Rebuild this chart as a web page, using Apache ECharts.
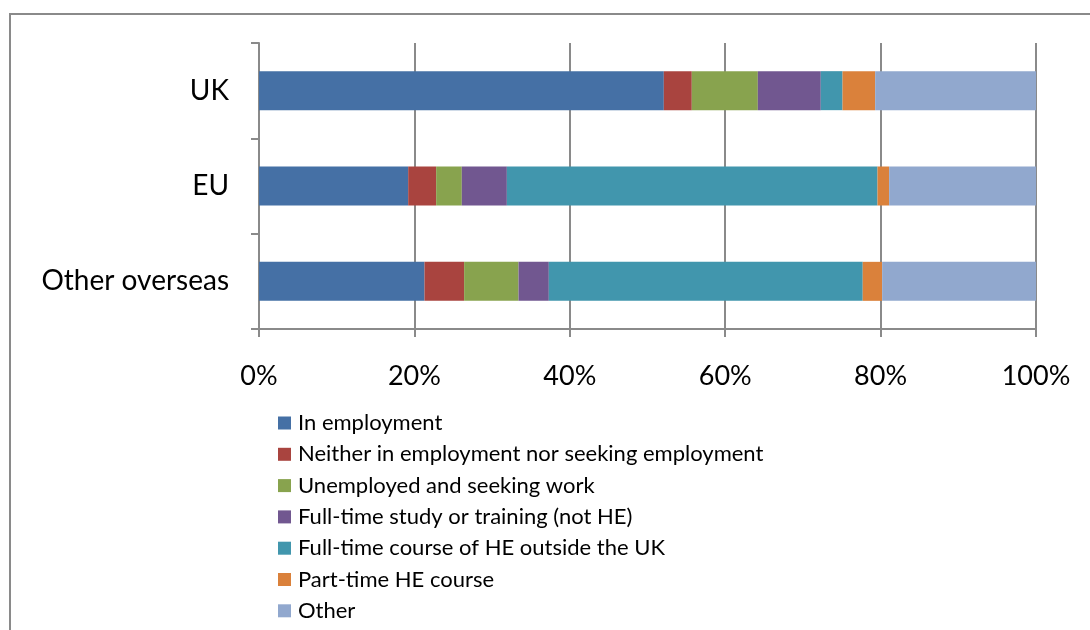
<!DOCTYPE html>
<html>
<head>
<meta charset="utf-8">
<script src="https://cdn.jsdelivr.net/npm/echarts@6/dist/echarts.min.js"></script>
<style>
html,body{margin:0;padding:0;background:#fff;}
#chart{width:1090px;height:630px;}
</style>
</head>
<body>
<div id="chart"></div>
<script>
var categories = ['UK', 'EU', 'Other overseas'];
var seriesNames = [
  'In employment',
  'Neither in employment nor seeking employment',
  'Unemployed and seeking work',
  'Full-time study or training (not HE)',
  'Full-time course of HE outside the UK',
  'Part-time HE course',
  'Other'
];
var inEmployment      = [52.1, 19.2, 21.3];
var neitherEmployment = [3.6, 3.6, 5.1];
var unemployed        = [8.5, 3.3, 7.0];
var fullTimeStudy     = [8.1, 5.8, 3.9];
var fullTimeHEAbroad  = [2.8, 47.7, 40.4];
var partTimeHE        = [4.2, 1.5, 2.5];
var other             = [20.7, 18.9, 19.8];
var xTicks = [0, 20, 40, 60, 80, 100];

var values = [inEmployment, neitherEmployment, unemployed, fullTimeStudy, fullTimeHEAbroad, partTimeHE, other];
var colors = ['#4570A5', '#A9443F', '#88A34E', '#715790', '#4196AD', '#DA813B', '#91A8CE'];
var FONT = 'Lato';

var chart = echarts.init(document.getElementById('chart'));
var series = seriesNames.map(function (n, i) {
  return {
    name: n,
    type: 'bar',
    stack: 'total',
    barWidth: 39,
    data: values[i],
    itemStyle: { color: colors[i] },
    emphasis: { disabled: true }
  };
});

chart.setOption({
  animation: false,
  textStyle: { fontFamily: FONT },
  graphic: [{
    type: 'rect',
    shape: { x: 10, y: 14, width: 1200, height: 800 },
    style: { fill: 'none', stroke: '#8a8a8a', lineWidth: 2 },
    silent: true
  }],
  grid: { left: 259, right: 54, top: 43, bottom: 301 },
  xAxis: {
    type: 'value',
    min: xTicks[0],
    max: xTicks[xTicks.length - 1],
    interval: 20,
    axisLine: { show: true, lineStyle: { color: '#8a8a8a', width: 2 } },
    axisTick: { show: true, length: 8, lineStyle: { color: '#8a8a8a', width: 2 } },
    splitLine: { show: true, lineStyle: { color: '#8a8a8a', width: 2 } },
    axisLabel: { formatter: '{value}%', color: '#000', fontSize: 27, fontFamily: FONT, margin: 34 }
  },
  yAxis: {
    type: 'category',
    data: categories,
    inverse: true,
    axisLine: { show: true, lineStyle: { color: '#8a8a8a', width: 2 } },
    axisTick: { show: true, length: 8, alignWithLabel: false, lineStyle: { color: '#8a8a8a', width: 2 } },
    axisLabel: { color: '#000', fontSize: 28, fontFamily: FONT, margin: 30 }
  },
  legend: {
    orient: 'vertical',
    left: 273,
    top: 406,
    height: 230,
    itemWidth: 13,
    itemHeight: 13,
    itemGap: 7.3,
    icon: 'rect',
    selectedMode: false,
    textStyle: { color: '#000', fontSize: 22, lineHeight: 24, fontFamily: FONT, padding: [0, 0, 0, 2] },
    data: seriesNames
  },
  series: series
});
</script>
</body>
</html>
